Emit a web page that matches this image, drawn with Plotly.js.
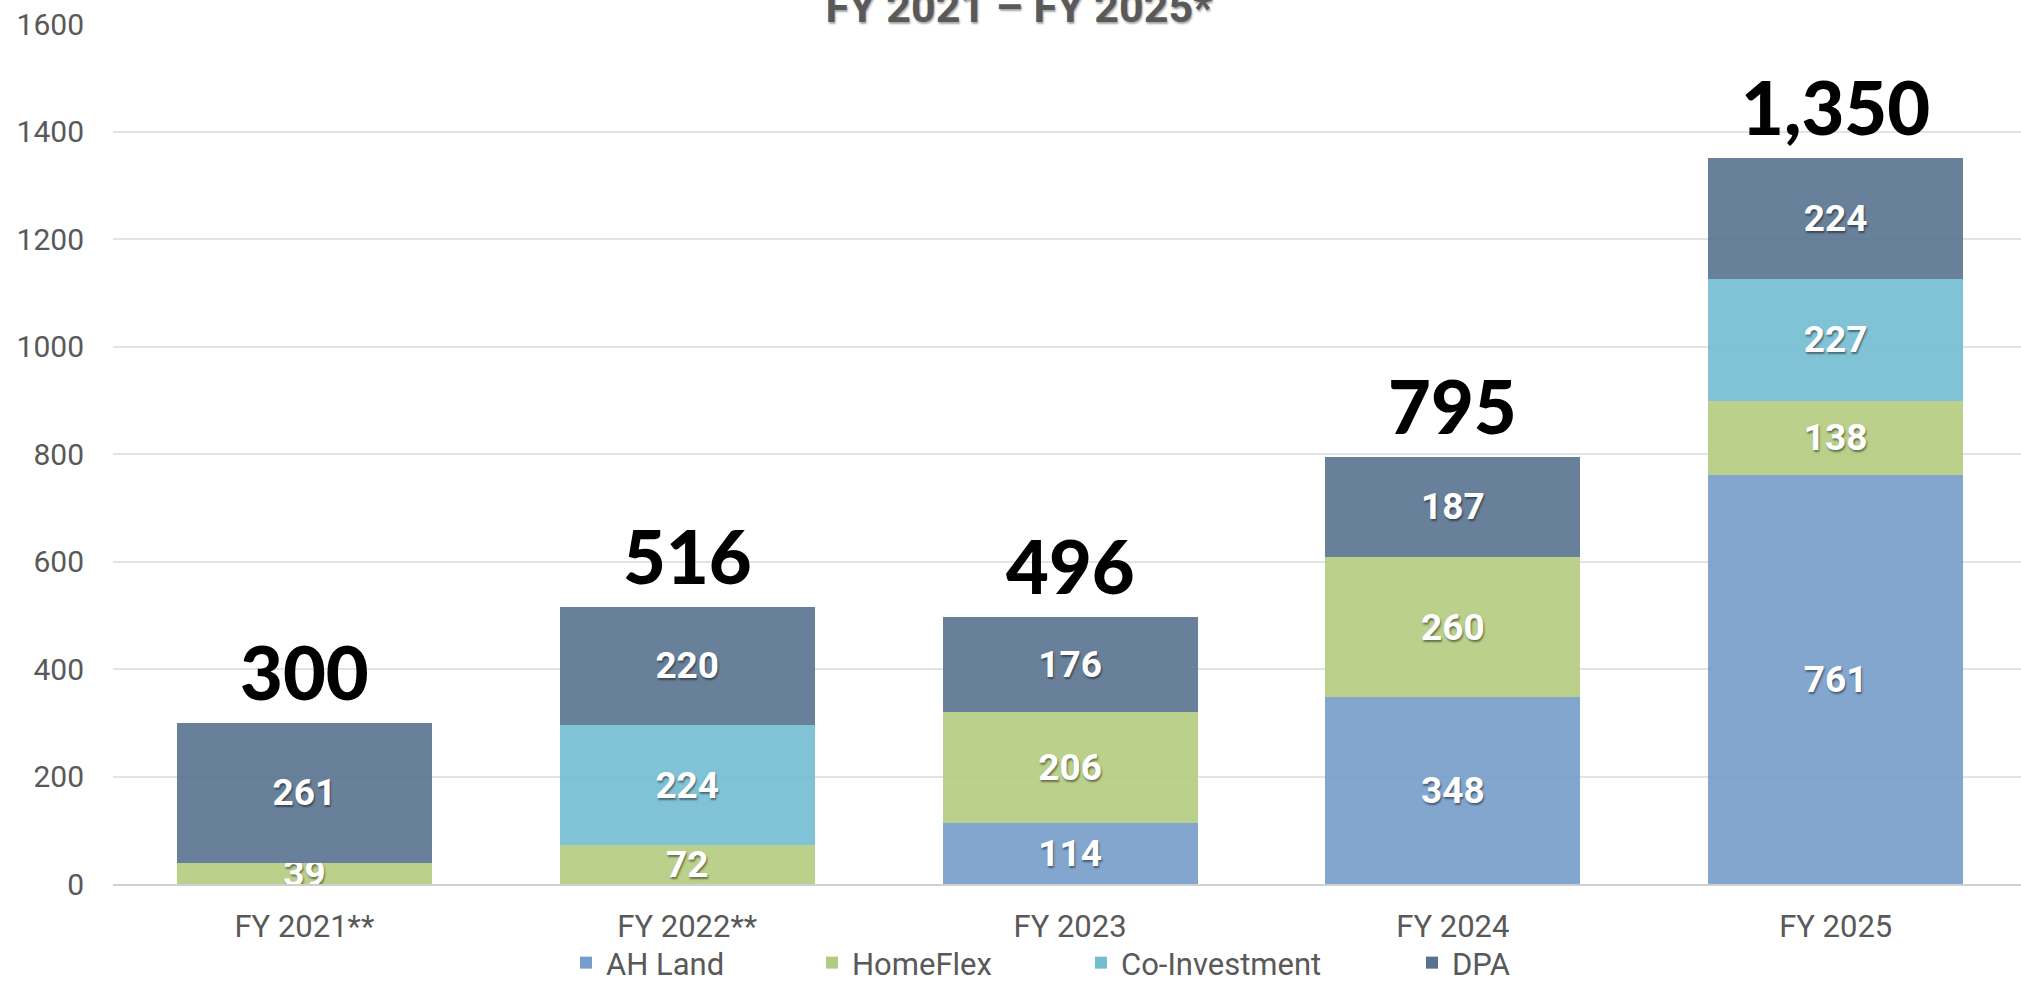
<!DOCTYPE html>
<html>
<head>
<meta charset="utf-8">
<script src="https://cdn.plot.ly/plotly-3.0.1.min.js"></script>
<style>
html,body{margin:0;padding:0;background:#fff;overflow:hidden;}
#chart{width:2021px;height:990px;}
</style>
</head>
<body>
<div id="chart"></div>
<script>
// ---- data ----
const categories = ["FY 2021**", "FY 2022**", "FY 2023", "FY 2024", "FY 2025"];
const ahLand      = [null, null, 114, 348, 761];
const homeFlex    = [39, 72, 206, 260, 138];
const coInvest    = [null, 224, null, null, 227];
const dpa         = [261, 220, 176, 187, 224];
const seriesNames = ["AH Land", "HomeFlex", "Co-Investment", "DPA"];
const titleText   = "FY 2021 – FY 2025*";

// ---- style ----
const colors = ["#759CCA", "#B2CB7E", "#72BDD1", "#58728F"];
const greyText = "#595959";
const legendCenters = [586, 832, 1101, 1432];

const seriesValues = [ahLand, homeFlex, coInvest, dpa];
const legendKeys = ["legend", "legend2", "legend3", "legend4"];

const traces = seriesValues.map((vals, i) => ({
  type: "bar",
  name: seriesNames[i],
  x: categories,
  y: vals,
  legend: legendKeys[i],
  marker: { color: colors[i], opacity: 0.9 },
  width: 0.666,
  text: vals.map(v => v == null ? "" : String(v)),
  texttemplate: "%{text}",
  textposition: "inside",
  insidetextanchor: "middle",
  constraintext: "none",
  textangle: 0,
  textfont: {
    family: "Roboto", size: 37, weight: 700, color: "#ffffff",
    shadow: "1px 2px 2px rgba(0,0,0,0.45)"
  },
  hoverinfo: "skip"
}));

const totals = categories.map((c, k) =>
  seriesValues.reduce((s, arr) => s + (arr[k] || 0), 0));

const annotations = categories.map((c, k) => ({
  x: c, y: totals[k], xref: "x", yref: "y",
  text: totals[k].toLocaleString("en-US"),
  showarrow: false, yanchor: "bottom", xanchor: "center", yshift: 5,
  font: { family: "Lato", size: 74, weight: 900, color: "#000000" }
}));

const layout = {
  width: 2021, height: 990,
  paper_bgcolor: "#ffffff", plot_bgcolor: "#ffffff",
  barmode: "stack",
  margin: { l: 113, r: 0, t: 24, b: 106 },
  title: {
    text: titleText,
    font: { family: "Roboto", size: 43, weight: 700, color: greyText,
            shadow: "1px 2px 2px rgba(0,0,0,0.35)" },
    xref: "container", yref: "container",
    x: 1019 / 2021, xanchor: "center",
    y: (990 - 22) / 990, yanchor: "bottom"
  },
  xaxis: {
    type: "category",
    range: [-0.5, 4.484],
    showgrid: false,
    showline: true, linecolor: "#cfcfcf", linewidth: 2,
    ticks: "",
    ticklabelstandoff: 14,
    tickfont: { family: "Roboto", size: 31, color: greyText },
    fixedrange: true
  },
  yaxis: {
    range: [0, 1600],
    dtick: 200,
    showgrid: true, gridcolor: "#e3e3e3", gridwidth: 2,
    zeroline: false,
    showline: false,
    ticks: "",
    ticklabelstandoff: 28,
    tickfont: { family: "Roboto", size: 30, color: greyText },
    fixedrange: true
  },
  annotations: annotations,
  showlegend: true
};

legendKeys.forEach((key, i) => {
  layout[key] = {
    orientation: "h",
    xref: "container", yref: "container",
    x: (legendCenters[i] - 20) / 2021, xanchor: "left",
    y: 0, yanchor: "bottom",
    entrywidth: 240, entrywidthmode: "pixels",
    font: { family: "Roboto", size: 31, color: greyText },
    bgcolor: "rgba(0,0,0,0)", borderwidth: 0
  };
});

Plotly.newPlot("chart", traces, layout, { displayModeBar: false, staticPlot: true });
</script>
</body>
</html>
